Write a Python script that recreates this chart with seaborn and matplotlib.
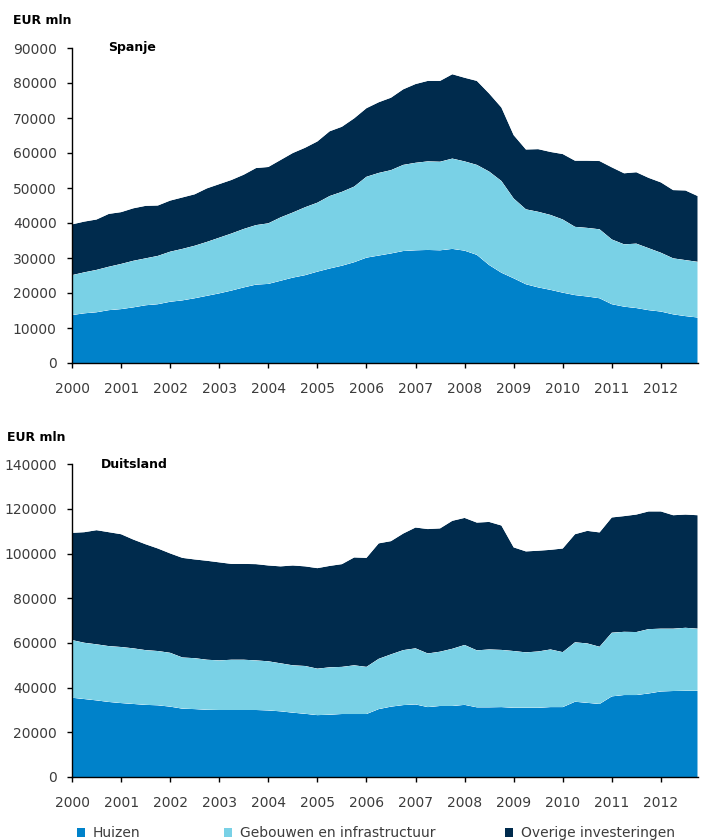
import matplotlib
matplotlib.use("Agg")
import matplotlib.pyplot as plt
from matplotlib.patches import Patch
from matplotlib.ticker import FuncFormatter
import pandas as pd
import seaborn as sns
import seaborn.objects as so

# Quarterly observations, 2000 Q1 - 2012 Q4
quarters = [2000 + i / 4 for i in range(52)]
year_ticks = list(range(2000, 2013))
series_names = ["Huizen", "Gebouwen en infrastructuur", "Overige investeringen"]
series_colors = ["#0082CA", "#79D1E6", "#002B4D"]

# Spanje, EUR mln per quarter
spanje_huizen = [
    13700, 14200, 14500, 15100, 15400, 15900, 16500, 16800, 17500, 17900,
    18500, 19200, 19900, 20700, 21600, 22400, 22600, 23500, 24400, 25100,
    26100, 27000, 27800, 28800, 30100, 30700, 31300, 32000, 32200, 32300,
    32200, 32600, 32100, 30900, 28000, 25800, 24200, 22500, 21600, 20900,
    20100, 19400, 19000, 18500, 16800, 16100, 15700, 15100, 14700, 13900,
    13400, 13000,
]
spanje_gebouwen = [
    11400, 11700, 12100, 12400, 12900, 13300, 13400, 13800, 14300, 14700,
    15000, 15400, 15900, 16300, 16700, 17000, 17300, 18100, 18600, 19400,
    19700, 20700, 21100, 21600, 23100, 23600, 23800, 24600, 25000, 25300,
    25300, 25800, 25500, 25700, 26700, 26200, 22800, 21400, 21600, 21400,
    20900, 19500, 19600, 19700, 18500, 17800, 18400, 17700, 16800, 16000,
    16000, 15900,
]
spanje_overige = [
    14500, 14500, 14400, 15100, 14800, 15000, 15000, 14400, 14600, 14700,
    14700, 15300, 15300, 15300, 15500, 16300, 16100, 16400, 17000, 17000,
    17500, 18500, 18600, 19500, 19600, 20200, 20700, 21600, 22500, 23000,
    23100, 24100, 23900, 24000, 22300, 21000, 18100, 17100, 17900, 18000,
    18700, 18900, 19200, 19500, 20600, 20300, 20400, 20100, 20100, 19500,
    19900, 18800,
]

# Duitsland, EUR mln per quarter
duitsland_huizen = [
    35500, 34900, 34300, 33600, 33100, 32700, 32300, 32100, 31500, 30600,
    30400, 30100, 30000, 30000, 30000, 30000, 29800, 29400, 28800, 28300,
    27700, 27900, 28200, 28200, 28200, 30400, 31500, 32200, 32500, 31300,
    31800, 31800, 32300, 31200, 31200, 31300, 31000, 31000, 31000, 31300,
    31300, 33700, 33200, 32700, 36100, 36700, 36700, 37400, 38300, 38500,
    38600, 38600,
]
duitsland_gebouwen = [
    25800, 25200, 25100, 25000, 25100, 24900, 24500, 24300, 24100, 22900,
    22800, 22400, 22200, 22500, 22500, 22200, 22000, 21500, 21200, 21400,
    20800, 21200, 21100, 21800, 21100, 22500, 23400, 24600, 25100, 24000,
    24300, 25600, 26800, 25500, 25900, 25600, 25400, 24800, 25200, 25800,
    24600, 26600, 26600, 25600, 28500, 28300, 28200, 28800, 28100, 27900,
    28200, 27800,
]
duitsland_overige = [
    48000, 49500, 51100, 51000, 50500, 48700, 47400, 45900, 44500, 44600,
    44200, 44300, 43900, 42900, 42900, 43100, 42900, 43400, 44700, 44600,
    45000, 45400, 46000, 48300, 48800, 51700, 50700, 52200, 54100, 55700,
    55200, 57300, 56900, 57200, 57100, 55700, 46400, 45200, 45100, 44600,
    46400, 48400, 50400, 51200, 51600, 51800, 52600, 52700, 52500, 50800,
    50700, 50800,
]


def long_frame(huizen, gebouwen, overige):
    parts = []
    for name, values in zip(series_names, [huizen, gebouwen, overige]):
        parts.append(pd.DataFrame({"kwartaal": quarters, "waarde": values, "reeks": name}))
    df = pd.concat(parts, ignore_index=True)
    df["reeks"] = pd.Categorical(df["reeks"], categories=series_names, ordered=True)
    return df


sns.set_theme(style="white")
plt.rcParams["font.family"] = ["DejaVu Sans"]

W, H = 705, 840
fig = plt.figure(figsize=(W / 100, H / 100), dpi=100)
fig.patch.set_facecolor("white")

left = 72 / W
width = 625.7 / W
ax_es = fig.add_axes([left, 1 - 363 / H, width, 315 / H])
ax_de = fig.add_axes([left, 1 - 777 / H, width, 312.7 / H])

palette = dict(zip(series_names, series_colors))

for ax, data in [
    (ax_es, long_frame(spanje_huizen, spanje_gebouwen, spanje_overige)),
    (ax_de, long_frame(duitsland_huizen, duitsland_gebouwen, duitsland_overige)),
]:
    (
        so.Plot(data, x="kwartaal", y="waarde", color="reeks")
        .add(so.Area(alpha=1, edgewidth=0), so.Stack(), legend=False)
        .scale(color=palette)
        .on(ax)
        .plot()
    )

label_color = "#3c3c3c"
for ax, ymax, ystep in [(ax_es, 90000, 10000), (ax_de, 140000, 20000)]:
    ax.set_facecolor("white")
    ax.grid(False)
    ax.set_xlim(2000, 2012.75)
    ax.set_ylim(0, ymax)
    ax.set_xticks(year_ticks)
    ax.xaxis.set_major_formatter(FuncFormatter(lambda v, p: f"{v:.0f}"))
    ax.set_yticks(list(range(0, ymax + 1, ystep)))
    ax.yaxis.set_major_formatter(FuncFormatter(lambda v, p: f"{v:.0f}"))
    ax.set_xlabel("")
    ax.set_ylabel("")
    for side in ["top", "right"]:
        ax.spines[side].set_visible(False)
    for side in ["left", "bottom"]:
        ax.spines[side].set_visible(True)
        ax.spines[side].set_color("black")
        ax.spines[side].set_linewidth(1.0)
    ax.tick_params(axis="both", which="major", direction="out", length=3.5,
                   width=1.0, color="black", labelsize=10, labelcolor=label_color,
                   left=True, bottom=True)
    ax.tick_params(axis="x", pad=10)
    ax.tick_params(axis="y", pad=7.5)
    ax.set_axisbelow(False)

fig.text(13 / W, 1 - 20 / H, "EUR mln", fontsize=9, fontweight="bold",
         color="black", ha="left", va="center")
fig.text(108 / W, 1 - 47.5 / H, "Spanje", fontsize=9, fontweight="bold",
         color="black", ha="left", va="center")
fig.text(7 / W, 1 - 437 / H, "EUR mln", fontsize=9, fontweight="bold",
         color="black", ha="left", va="center")
fig.text(100.5 / W, 1 - 464 / H, "Duitsland", fontsize=9, fontweight="bold",
         color="black", ha="left", va="center")

# Legend row along the bottom edge
legend_x = [77, 224, 505]
for name, col, x in zip(series_names, series_colors, legend_x):
    fig.legend(handles=[Patch(facecolor=col, edgecolor="none", label=name)],
               loc="center left", bbox_to_anchor=(x / W, 1 - 833 / H),
               frameon=False, borderpad=0, borderaxespad=0,
               handlelength=0.6, handleheight=0.6, handletextpad=0.55,
               fontsize=10, labelcolor=label_color)

fig.savefig("out.png", dpi=100, facecolor="white")
